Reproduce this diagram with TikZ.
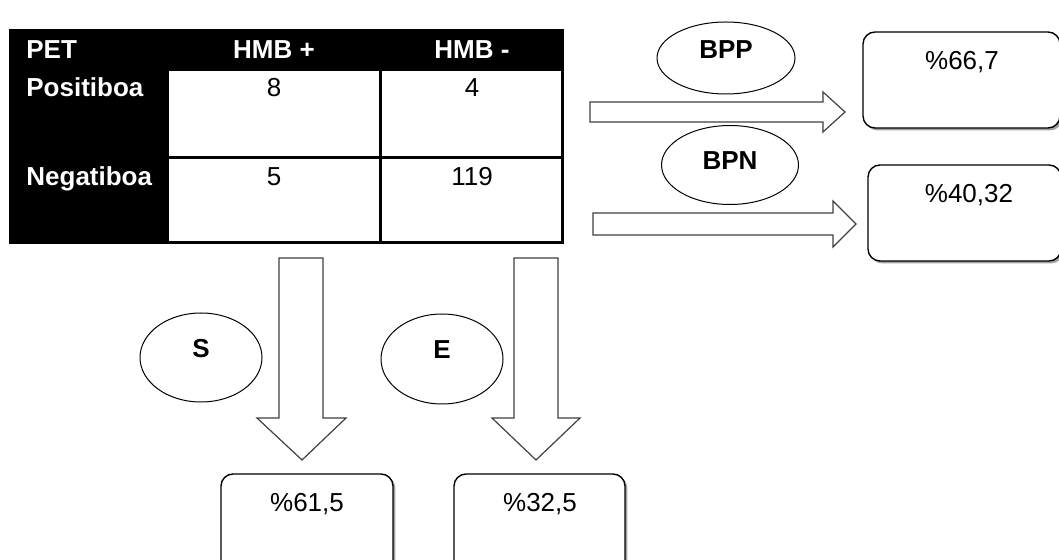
\documentclass[tikz,border=0pt]{standalone}
\usepackage{fontspec}
\setmainfont{Liberation Sans}
\usepackage{tikz}
\usetikzlibrary{shapes.geometric, shadows, positioning}

\begin{document}
\begin{tikzpicture}[x=0.5pt, y=-0.5pt, line join=miter,
    every node/.style={font=\fontsize{13}{15}\selectfont, inner sep=0pt},
    hd/.style={font=\fontsize{13}{15}\selectfont\bfseries},
    oval/.style={ellipse, draw, line width=0.5pt},
    blockarrow/.style={draw=black!75, line width=0.6pt, fill=white},
    resbox/.style={draw, line width=0.7pt, rounded corners=6pt, fill=white,
        drop shadow={shadow xshift=1.2pt, shadow yshift=-1.2pt, fill=black!45, opacity=0.8}}]
    \clip (0,0) rectangle (1059,560);
    \fill[white] (0,0) rectangle (1059,560);

    % Table: black frame with four white cells
    \fill[black] (9,29) rectangle (564,244);
    \fill[white] (169,71) rectangle (379,156);
    \fill[white] (382,71) rectangle (561,156);
    \fill[white] (169,159) rectangle (379,241);
    \fill[white] (382,159) rectangle (561,241);

    \node[hd, white, anchor=base west] (pet) at (26,59) {PET};
    \node[hd, white, anchor=base] (hmbp) at (274,59) {HMB +};
    \node[hd, white, anchor=base] (hmbn) at (472,59) {HMB -};
    \node[hd, white, anchor=base west] (pos) at (26,97) {Positiboa};
    \node[hd, white, anchor=base west] (neg) at (26,186) {Negatiboa};
    \node[anchor=base] (tp) at (274,97) {8};
    \node[anchor=base] (fp) at (472,97) {4};
    \node[anchor=base] (fn) at (274,186) {5};
    \node[anchor=base] (tn) at (472,186) {119};

    % Block arrows
    \draw[blockarrow] (590,102) -- (823,102) -- (823,92) -- (845,112) -- (823,132) -- (823,122) -- (590,122) -- cycle;
    \draw[blockarrow] (593,213) -- (833,213) -- (833,201) -- (856,224) -- (833,247) -- (833,235) -- (593,235) -- cycle;
    \draw[blockarrow] (279,258) -- (279,418) -- (257,418) -- (302,460) -- (346,418) -- (323,418) -- (323,258) -- cycle;
    \draw[blockarrow] (514,258) -- (514,418) -- (492,418) -- (536,460) -- (580,418) -- (558,418) -- (558,258) -- cycle;

    % Ovals
    \node[oval, minimum width=69pt, minimum height=36pt] (bpp) at (726,58) {};
    \node[hd] at (726,50) {BPP};
    \node[oval, minimum width=68.5pt, minimum height=39.5pt] (bpn) at (730,165) {};
    \node[hd] at (730,161) {BPN};
    \node[oval, minimum width=61pt, minimum height=44.5pt] (sens) at (201,357.5) {};
    \node[hd] at (201,348.5) {S};
    \node[oval, minimum width=61pt, minimum height=45pt] (espe) at (442,359) {};
    \node[hd] at (442,350) {E};

    % Result boxes
    \draw[resbox] (863,32) rectangle (1060,128);
    \node (rbpp) at (962,62) {\%66,7};
    \draw[resbox] (868,165) rectangle (1061,261);
    \node (rbpn) at (969,195) {\%40,32};
    \draw[resbox] (221,474) rectangle (393,590);
    \node (rs) at (307,504) {\%61,5};
    \draw[resbox] (454,474) rectangle (625,590);
    \node (re) at (540,504) {\%32,5};
\end{tikzpicture}
\end{document}
